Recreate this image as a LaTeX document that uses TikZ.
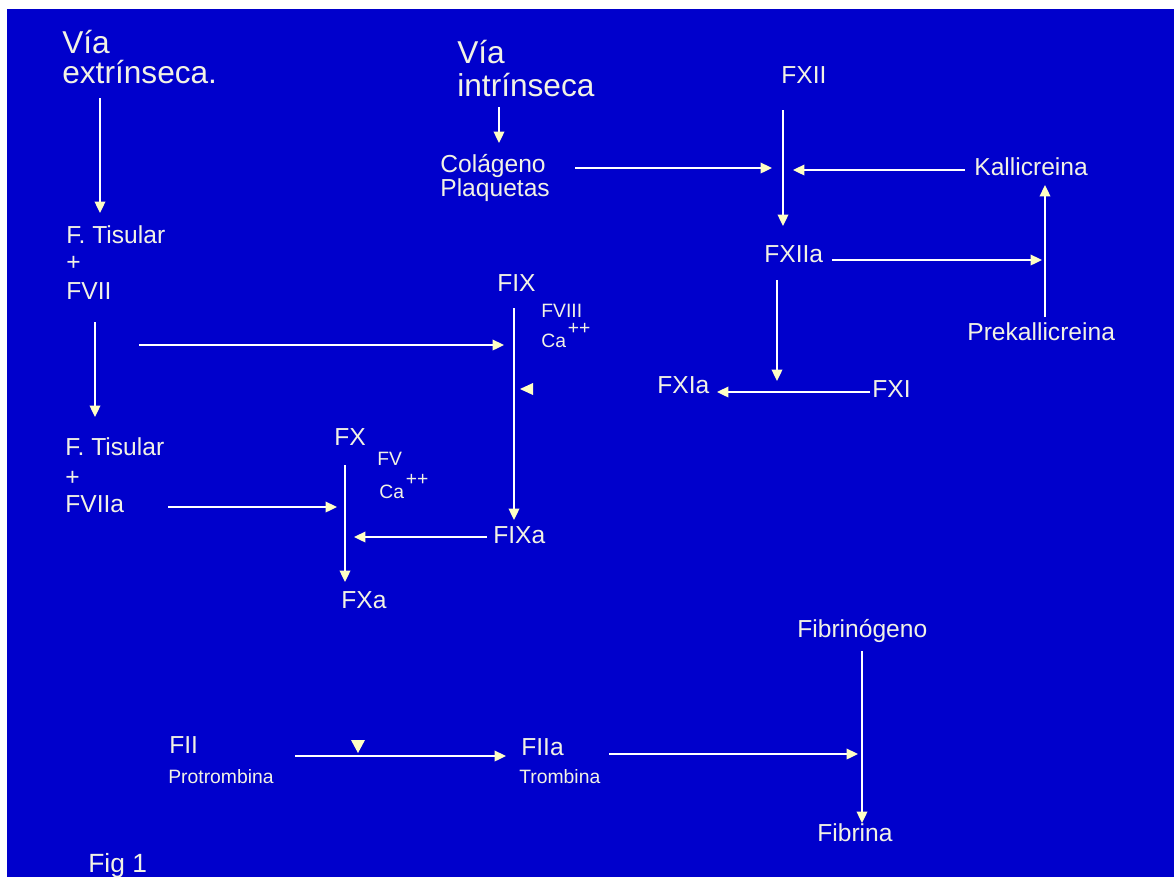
\documentclass[tikz,border=0pt]{standalone}
\usepackage{fontspec}
\setmainfont{Liberation Sans}
\usetikzlibrary{arrows.meta}

\definecolor{fondo}{HTML}{0000CC}
\definecolor{texto}{HTML}{F2F2E4}
\definecolor{punta}{HTML}{FFFFC4}

\tikzset{
	etiqueta/.style={text=texto, inner sep=0pt, anchor=base west, font=\fontsize{14}{16}\selectfont},
	grande/.style={etiqueta, font=\fontsize{18}{20}\selectfont},
	chica/.style={etiqueta, font=\fontsize{11}{12}\selectfont},
	flecha/.style={draw=white, line width=1.1pt, -{Triangle[length=6.5pt, width=6pt, color=punta]}},
}

\begin{document}
\begin{tikzpicture}[x=0.02cm, y=-0.02cm]

	\fill[white] (0,0) rectangle (1174,877);
	\fill[fondo] (7,9) rectangle (1174,877);
	\useasboundingbox (0,0) rectangle (1174,877);

	\node[grande] (viaE) at (62,53) {Vía};
	\node[grande] (extr) at ([shift={(0,30)}]viaE.base west) {extrínseca.};
	\node[etiqueta] (ft1) at (66,243) {F. Tisular};
	\node[etiqueta] (mas1) at ([shift={(0,27)}]ft1.base west) {+};
	\node[etiqueta] (fvii) at ([shift={(0,56)}]ft1.base west) {FVII};
	\node[etiqueta] (ft2) at (65,455) {F. Tisular};
	\node[etiqueta] (mas2) at ([shift={(0,30)}]ft2.base west) {+};
	\node[etiqueta] (fviia) at ([shift={(0,57)}]ft2.base west) {FVIIa};

	\node[grande] (viaI) at (457,63) {Vía};
	\node[grande] (intr) at ([shift={(0,33)}]viaI.base west) {intrínseca};
	\node[etiqueta] (col) at (440,172) {Colágeno};
	\node[etiqueta] (plaq) at ([shift={(0,24)}]col.base west) {Plaquetas};
	\node[etiqueta] (fxii) at (781,83) {FXII};
	\node[etiqueta] (kal) at (974,175) {Kallicreina};
	\node[etiqueta] (fxiia) at (764,262) {FXIIa};
	\node[etiqueta] (prek) at (967,340) {Prekallicreina};
	\node[etiqueta] (fxia) at (657,393) {FXIa};
	\node[etiqueta] (fxi) at (872,397) {FXI};

	\node[etiqueta] (fix) at (497,291) {FIX};
	\node[chica] (fviii) at (541,317) {FVIII};
	\node[chica] (ca1) at (541,347) {Ca\kern1pt\raisebox{7pt}{++}};
	\node[etiqueta] (fixa) at (493,543) {FIXa};
	\node[etiqueta] (fx) at (334,445) {FX};
	\node[chica] (fv) at (377,465) {FV};
	\node[chica] (ca2) at (379,498) {Ca\kern1pt\raisebox{7pt}{++}};
	\node[etiqueta] (fxa) at (341,608) {FXa};

	\node[etiqueta] (fii) at (169,753) {FII};
	\node[chica] (prot) at (168,783) {Protrombina};
	\node[etiqueta] (fiia) at (521,755) {FIIa};
	\node[chica] (tromb) at (519,783) {Trombina};
	\node[etiqueta] (fibg) at (797,637) {Fibrinógeno};
	\node[etiqueta] (fibr) at (817,841) {Fibrina};
	\node[etiqueta, font=\fontsize{15}{16}\selectfont] (fig) at (88,872) {Fig 1};

	\coordinate (aIX) at (504,345);
	\coordinate (aX) at (337,507);
	\coordinate (bX) at (354,537);
	\coordinate (aXII) at (772,168);
	\coordinate (bXII) at (793,170);
	\coordinate (aKal) at (1042,260);
	\coordinate (aXIa) at (777,381);
	\coordinate (aFib) at (858,754);
	\coordinate (pIX) at (520,389);
	\coordinate (pII) at (358,753);

	\draw[flecha] ([shift={(38,15)}]extr.base west) -- ([shift={(34,-30)}]ft1.base west);
	\draw[flecha] ([shift={(29,23)}]fvii.base west) -- ([shift={(30,-38)}]ft2.base west);
	\draw[flecha] ([shift={(73,46)}]fvii.base west) -- (aIX);
	\draw[flecha] ([shift={(103,-5)}]fviia.base west) -- (aX);
	\draw[flecha] ([shift={(11,20)}]fx.base west) -- ([shift={(4,-26)}]fxa.base west);
	\draw[flecha] ([shift={(17,17)}]fix.base west) -- ([shift={(21,-23)}]fixa.base west);
	\draw[flecha] ([shift={(-6,-6)}]fixa.base west) -- (bX);
	\draw[flecha] ([shift={(42,11)}]intr.base west) -- ([shift={(59,-29)}]col.base west);
	\draw[flecha] ([shift={(135,-4)}]col.base west) -- (aXII);
	\draw[flecha] ([shift={(2,27)}]fxii.base west) -- ([shift={(19,-36)}]fxiia.base west);
	\draw[flecha] ([shift={(-9,-5)}]kal.base west) -- (bXII);
	\draw[flecha] ([shift={(68,-2)}]fxiia.base west) -- (aKal);
	\draw[flecha] ([shift={(78,-23)}]prek.base west) -- ([shift={(71,10)}]kal.base west);
	\draw[flecha] ([shift={(13,18)}]fxiia.base west) -- (aXIa);
	\draw[flecha] ([shift={(-2,-5)}]fxi.base west) -- ([shift={(60,-1)}]fxia.base west);
	\draw[flecha] ([shift={(126,3)}]fii.base west) -- ([shift={(-15,1)}]fiia.base west);
	\draw[flecha] ([shift={(88,-1)}]fiia.base west) -- (aFib);
	\draw[flecha] ([shift={(65,14)}]fibg.base west) -- ([shift={(45,-18)}]fibr.base west);
	\fill[punta] (pIX) -- ++(13,-6) -- ++(0,12) -- cycle;
	\fill[punta] (pII) -- ++(-7,-13) -- ++(14,0) -- cycle;

\end{tikzpicture}
\end{document}
